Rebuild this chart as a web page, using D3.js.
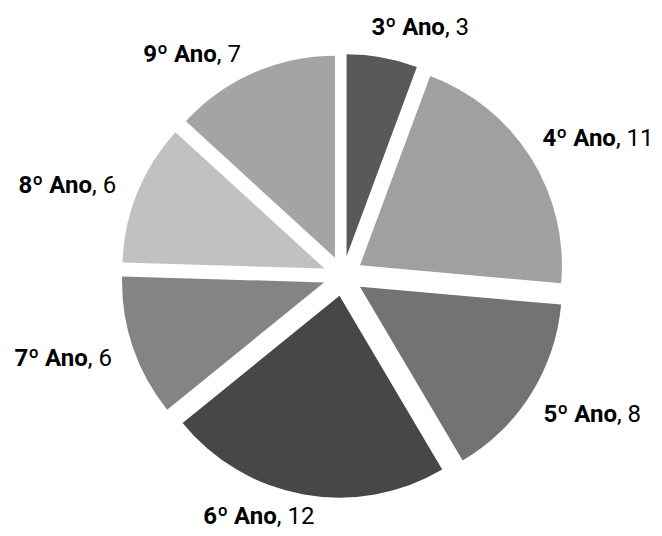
<!DOCTYPE html>
<html><head><meta charset="utf-8">
<script src="https://cdn.jsdelivr.net/npm/d3@7"></script>
<style>body{margin:0;background:#fff}</style>
</head><body>
<svg id="chart" width="662" height="536"></svg>
<script>
const categories = ["3º Ano","4º Ano","5º Ano","6º Ano","7º Ano","8º Ano","9º Ano"];
const values = [3, 11, 8, 12, 6, 6, 7];
const colors = ["#595959","#a0a0a0","#737373","#474747","#848484","#c1c1c1","#a4a4a4"];
// best-fit label placement tweak (degrees, layout only)
const labelShiftDeg = [5, 0, 0, 6, 0.3, -1.3, -7];

const W = 662, H = 536;
const cx = 343, cy = 276, r = 202, explode = 20, labelR = 246;
const svg = d3.select("#chart");
const data = categories.map((c,i)=>({cat:c, val:values[i], color:colors[i]}));
const pie = d3.pie().value(d=>d.val).sort(null);
const arcs = pie(data);
const arc = d3.arc().innerRadius(0).outerRadius(r);
const g = svg.append("g").attr("transform",`translate(${cx},${cy})`);

arcs.forEach(a=>{
  const m = (a.startAngle+a.endAngle)/2;
  const dx = Math.sin(m)*explode, dy = -Math.cos(m)*explode;
  g.append("path").attr("d",arc(a)).attr("fill",a.data.color)
   .attr("transform",`translate(${dx},${dy})`);
});

const fontFamily = "Roboto, sans-serif";
const fs = 24;
arcs.forEach((a,i)=>{
  const m = (a.startAngle+a.endAngle)/2 + labelShiftDeg[i]*Math.PI/180;
  const s = Math.sin(m), c = Math.cos(m);
  const px = cx + s*labelR, py = cy - c*labelR;
  const t = svg.append("text").attr("font-family",fontFamily).attr("font-size",fs).attr("fill","#000");
  t.append("tspan").attr("font-weight","bold").text(a.data.cat);
  t.append("tspan").text(", " + a.data.val);
  const bb = t.node().getBBox();
  const w = bb.width, h = fs;
  const left = px - w*(1 - s)/2;
  const top = Math.min(py - h*(1 + c)/2, H - h - 8);
  t.attr("x", left).attr("y", top + h*0.84);
});
</script>
</body></html>
